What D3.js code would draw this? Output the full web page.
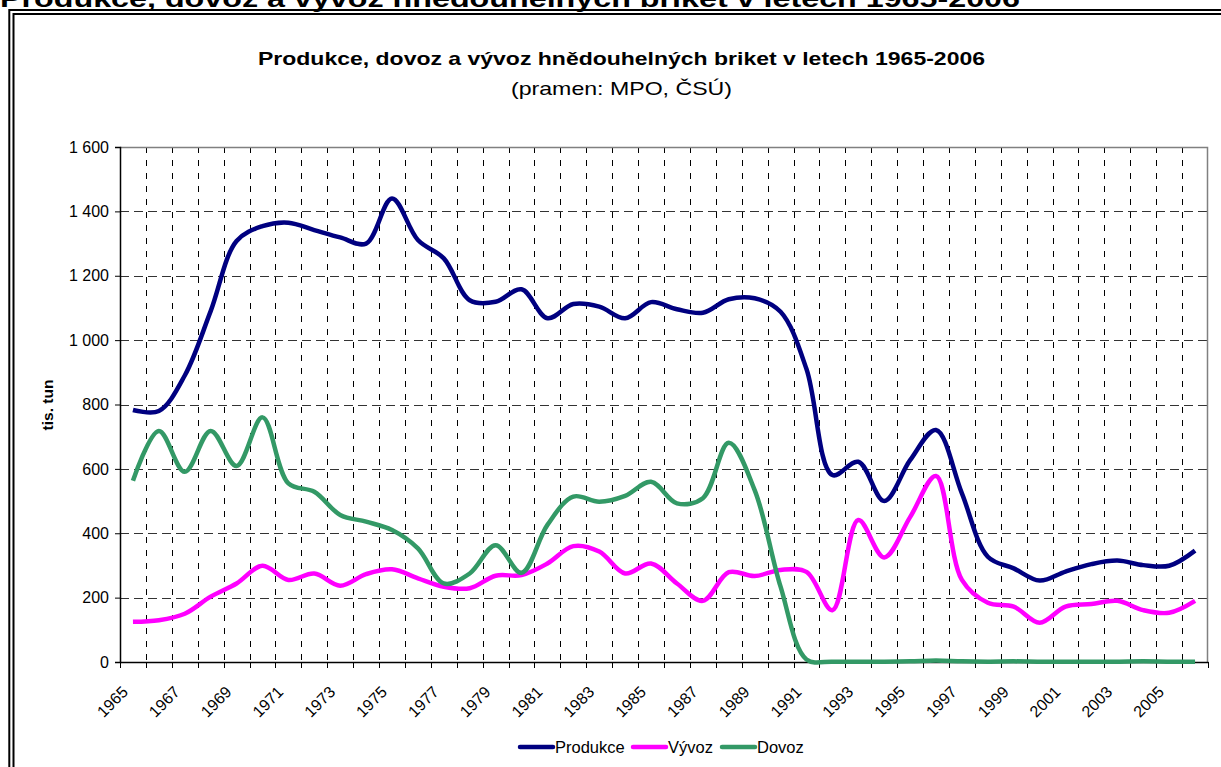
<!DOCTYPE html>
<html>
<head>
<meta charset="utf-8">
<script src="https://cdn.jsdelivr.net/npm/d3@7"></script>
<style>
  body { margin: 0; background: #fff; }
  text { font-family: Arial, "Liberation Sans", sans-serif; }
</style>
</head>
<body>
<div id="chart-area"></div>
<script>
// Data (tis. tun)
var years = [1965, 1966, 1967, 1968, 1969, 1970, 1971, 1972, 1973, 1974,
             1975, 1976, 1977, 1978, 1979, 1980, 1981, 1982, 1983, 1984,
             1985, 1986, 1987, 1988, 1989, 1990, 1991, 1992, 1993, 1994,
             1995, 1996, 1997, 1998, 1999, 2000, 2001, 2002, 2003, 2004,
             2005, 2006];

var produkce = [783, 780, 890, 1090, 1308, 1354, 1365, 1342, 1319, 1300,
                1440, 1311, 1254, 1124, 1119, 1158, 1068, 1112, 1104, 1068,
                1118, 1096, 1085, 1127, 1130, 1088, 910, 581, 622, 500,
                627, 721, 524, 327, 291, 253, 281, 304, 315, 301,
                299, 346];

var vyvoz = [125, 130, 150, 203, 244, 299, 255, 275, 237, 273,
             288, 260, 234, 229, 268, 270, 306, 360, 343, 275,
             306, 244, 190, 279, 267, 286, 280, 161, 441, 325,
             450, 578, 255, 184, 172, 122, 172, 180, 190, 161,
             153, 190];

var dovoz = [563, 718, 591, 718, 609, 760, 555, 529, 457, 436,
             410, 353, 244, 275, 363, 277, 426, 514, 498, 516,
             560, 493, 509, 681, 534, 234, 8, 1, 1, 1,
             2, 5, 2, 1, 2, 1, 1, 1, 1, 2,
             1, 1];

var yTicks = [0, 200, 400, 600, 800, 1000, 1200, 1400, 1600];
var seriesNames = ["Produkce", "Vývoz", "Dovoz"];
var seriesColors = ["#000080", "#ff00ff", "#339966"];

var series = [produkce, vyvoz, dovoz].map(function(vals, i) {
  return {
    name: seriesNames[i],
    color: seriesColors[i],
    values: vals.map(function(v, j) { return {year: years[j], value: v}; })
  };
});

// SVG drawing area
var W = 1221, H = 767;
var margin = {top: 147, right: 13, bottom: 105, left: 120};
var width = W - margin.left - margin.right,
    height = H - margin.top - margin.bottom;

var root = d3.select("#chart-area").append("svg")
    .attr("width", W)
    .attr("height", H)
    .style("display", "block");

root.append("rect").attr("width", W).attr("height", H).attr("fill", "#fff");

// cut-off page heading above the frame
root.append("text")
    .attr("x", 0)
    .attr("y", 7)
    .attr("font-size", 24)
    .attr("font-weight", "bold")
    .attr("textLength", 1020)
    .attr("lengthAdjust", "spacingAndGlyphs")
    .text("Produkce, dovoz a vývoz hnědouhelných briket v letech 1965-2006");

// double frame
root.append("rect")
    .attr("x", 9.3).attr("y", 10)
    .attr("width", 1400).attr("height", 1000)
    .attr("fill", "none").attr("stroke", "#000").attr("stroke-width", 2);
root.append("rect")
    .attr("x", 13.5).attr("y", 14)
    .attr("width", 1400).attr("height", 1000)
    .attr("fill", "none").attr("stroke", "#000").attr("stroke-width", 2);

// titles
root.append("text")
    .attr("x", 621.5).attr("y", 65)
    .attr("text-anchor", "middle")
    .attr("font-size", 18.5)
    .attr("font-weight", "bold")
    .attr("textLength", 727)
    .attr("lengthAdjust", "spacingAndGlyphs")
    .text("Produkce, dovoz a vývoz hnědouhelných briket v letech 1965-2006");
root.append("text")
    .attr("x", 621.5).attr("y", 95)
    .attr("text-anchor", "middle")
    .attr("font-size", 18.5)
    .attr("textLength", 221)
    .attr("lengthAdjust", "spacingAndGlyphs")
    .text("(pramen: MPO, ČSÚ)");

var svg = root.append("g")
    .attr("transform", "translate(" + margin.left + "," + margin.top + ")");

// Scales
var x = d3.scaleBand()
    .domain(years)
    .range([0, width])
    .padding(0);

var y = d3.scaleLinear()
    .domain([0, 1600])
    .range([height, 0]);

var cx = function(yr) { return x(yr) + x.bandwidth() / 2; };

// grid
var bounds = years.map(function(yr) { return x(yr); }).concat([width]);

svg.append("g").selectAll("line")
    .data(bounds.slice(1, -1))
  .enter().append("line")
    .attr("x1", function(d) { return Math.round(d) + 0.5; })
    .attr("x2", function(d) { return Math.round(d) + 0.5; })
    .attr("y1", 0).attr("y2", height)
    .attr("stroke", "#000")
    .attr("stroke-dasharray", "6,7");

svg.append("g").selectAll("line")
    .data(yTicks.slice(1, -1))
  .enter().append("line")
    .attr("x1", 0).attr("x2", width)
    .attr("y1", function(d) { return Math.round(y(d)) + 0.5; })
    .attr("y2", function(d) { return Math.round(y(d)) + 0.5; })
    .attr("stroke", "#333")
    .attr("stroke-dasharray", "9,5");

// plot border top/right
svg.append("path")
    .attr("d", "M0,0.5H" + (width - 0.5) + "V" + height)
    .attr("fill", "none")
    .attr("stroke", "#808080")
    .attr("stroke-width", 1.5);

// Axes
var fmt = d3.formatLocale({decimal: ",", thousands: "\u00a0", grouping: [3], currency: ["", ""]}).format(",d");

var yAxis = d3.axisLeft(y)
    .tickValues(yTicks)
    .tickSize(5)
    .tickPadding(6)
    .tickFormat(fmt);

var yAxisGroup = svg.append("g")
    .attr("class", "axis y-axis")
    .call(yAxis);
yAxisGroup.select(".domain").attr("stroke", "#000").attr("stroke-width", 1.5);
yAxisGroup.selectAll("text").attr("font-size", 16).attr("fill", "#000")
    .style("font-family", "Arial, 'Liberation Sans', sans-serif");

var xAxis = d3.axisBottom(x)
    .tickSize(0)
    .tickSizeOuter(0)
    .tickFormat(function(d, i) { return i % 2 === 0 ? d : ""; });

var xAxisGroup = svg.append("g")
    .attr("class", "axis x-axis")
    .attr("transform", "translate(0," + height + ")")
    .call(xAxis);
xAxisGroup.select(".domain").attr("stroke", "#000").attr("stroke-width", 1.5);
xAxisGroup.selectAll("text")
    .attr("font-size", 16)
    .attr("fill", "#000")
    .style("font-family", "Arial, 'Liberation Sans', sans-serif")
    .attr("text-anchor", "end")
    .attr("x", 0)
    .attr("y", 0)
    .attr("dy", 0)
    .attr("transform", "translate(-4,31) rotate(-45)");

// category tick marks between years
xAxisGroup.append("g").selectAll("line")
    .data(bounds)
  .enter().append("line")
    .attr("x1", function(d) { return Math.round(d) + 0.5; })
    .attr("x2", function(d) { return Math.round(d) + 0.5; })
    .attr("y1", 0).attr("y2", 6)
    .attr("stroke", "#000");

// y axis title
root.append("text")
    .attr("transform", "translate(53,405) rotate(-90)")
    .attr("text-anchor", "middle")
    .attr("font-size", 15.5)
    .attr("font-weight", "bold")
    .text("tis. tun");

// Lines
var line = d3.line()
    .x(function(d) { return cx(d.year); })
    .y(function(d) { return y(d.value); })
    .curve(d3.curveCatmullRom.alpha(0.5));

svg.append("g").selectAll("path")
    .data(series)
  .enter().append("path")
    .attr("fill", "none")
    .attr("stroke", function(d) { return d.color; })
    .attr("stroke-width", 4.5)
    .attr("stroke-linejoin", "round")
    .attr("d", function(d) { return line(d.values); });

// Legend
var legendX = [520, 633, 722];
var legend = root.append("g").selectAll("g")
    .data(series)
  .enter().append("g")
    .attr("transform", function(d, i) { return "translate(" + legendX[i] + ",747)"; });

legend.append("line")
    .attr("x1", 0).attr("x2", 33)
    .attr("stroke", function(d) { return d.color; })
    .attr("stroke-width", 4.5)
    .attr("stroke-linecap", "round");

legend.append("text")
    .attr("x", 35)
    .attr("y", 6)
    .attr("font-size", 16.5)
    .text(function(d) { return d.name; });
</script>
</body>
</html>
